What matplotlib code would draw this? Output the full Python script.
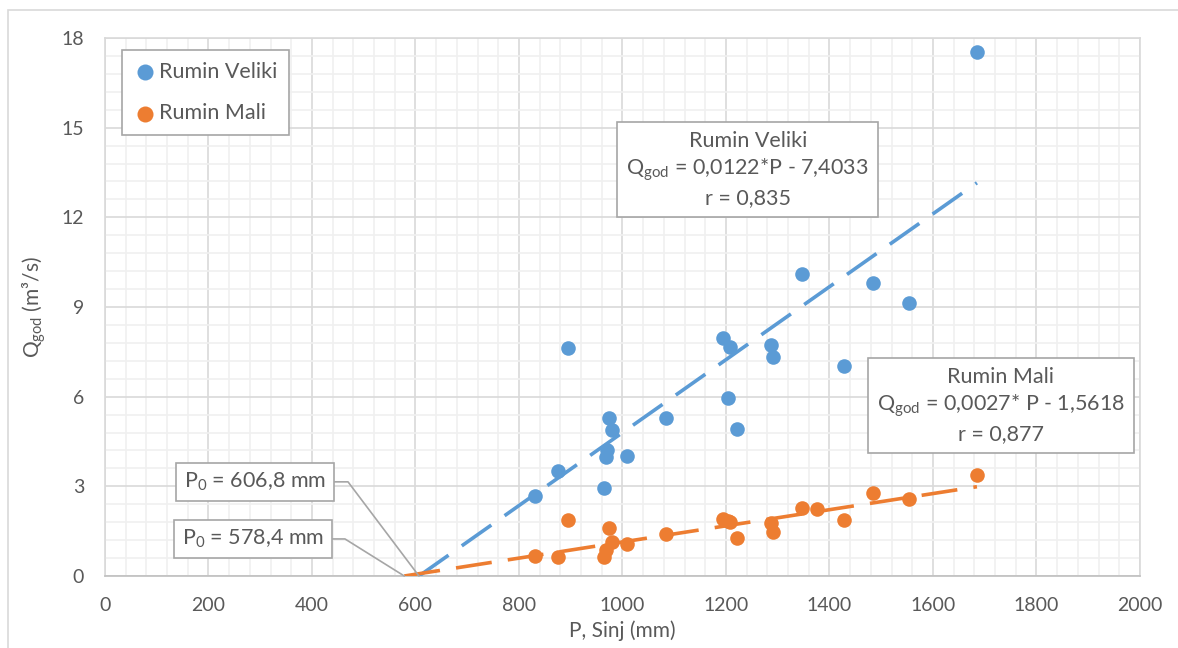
import matplotlib
matplotlib.use('Agg')
import matplotlib.pyplot as plt
from matplotlib.patches import Rectangle
from matplotlib.ticker import MultipleLocator

plt.rcParams['font.family'] = ['Lato', 'DejaVu Sans']
plt.rcParams['mathtext.fontset'] = 'custom'
plt.rcParams['mathtext.rm'] = 'Lato'
plt.rcParams['mathtext.it'] = 'Lato:italic'

# Podaci (ocitano sa grafika)
p_veliki = [831, 875, 895, 964, 968, 970, 974, 980, 1009, 1084, 1194, 1204, 1208,
            1221, 1287, 1291, 1347, 1428, 1484, 1554, 1685]
q_veliki = [2.68, 3.52, 7.64, 2.95, 3.99, 4.22, 5.30, 4.89, 4.00, 5.30, 7.97, 5.97, 7.65,
            4.93, 7.74, 7.34, 10.12, 7.04, 9.79, 9.15, 17.53]

p_mali = [831, 875, 895, 964, 968, 974, 980, 1009, 1084, 1194, 1204, 1208,
          1221, 1287, 1291, 1347, 1376, 1428, 1484, 1554, 1685]
q_mali = [0.68, 0.64, 1.88, 0.64, 0.87, 1.60, 1.14, 1.07, 1.40, 1.91, 1.85, 1.82,
          1.27, 1.78, 1.48, 2.28, 2.25, 1.88, 2.78, 2.58, 3.39]

# Regresija Q = a*P + b
a_veliki, b_veliki, r_veliki, p0_veliki = 0.0122, -7.4033, '0,835', 606.8
a_mali, b_mali, r_mali, p0_mali = 0.0027, -1.5618, '0,877', 578.4
p_kraj = 1685

plava = '#5B9BD5'
narandzasta = '#ED7D31'
siva_tekst = '#595959'
okvir = '#A6A6A6'

fig = plt.figure(figsize=(11.78, 6.48), dpi=100)
ax = fig.add_axes([0.0891, 0.1111, 0.8786, 0.8303])

fig.add_artist(Rectangle((8 / 1178, -0.05), 1.2, 1.05 - 10 / 648,
                         transform=fig.transFigure, fill=False, ec='#D9D9D9', lw=1.2))

# Trend linije
ax.plot([p0_veliki, p_kraj], [a_veliki * p0_veliki + b_veliki, a_veliki * p_kraj + b_veliki],
        color=plava, lw=2.6, dashes=(10, 4.5), zorder=3)
ax.plot([p0_mali, p_kraj], [a_mali * p0_mali + b_mali, a_mali * p_kraj + b_mali],
        color=narandzasta, lw=2.6, dashes=(10, 4.5), zorder=3)

ax.scatter(p_veliki, q_veliki, s=110, color=plava, label='Rumin Veliki', zorder=4, linewidths=0)
ax.scatter(p_mali, q_mali, s=110, color=narandzasta, label='Rumin Mali', zorder=4, linewidths=0)

ax.set_xlim(0, 2000)
ax.set_ylim(0, 18)
ax.xaxis.set_major_locator(MultipleLocator(200))
ax.xaxis.set_minor_locator(MultipleLocator(40))
ax.yaxis.set_major_locator(MultipleLocator(3))
ax.yaxis.set_minor_locator(MultipleLocator(0.6))
ax.grid(which='major', color='#D9D9D9', lw=1.2, zorder=0)
ax.grid(which='minor', color='#F0F0F0', lw=1.2, zorder=0)
ax.set_axisbelow(True)
for s in ax.spines.values():
    s.set_color('#D9D9D9')
    s.set_linewidth(1.2)
ax.spines['bottom'].set_color('#BFBFBF')
ax.tick_params(which='both', length=0, labelsize=14, labelcolor=siva_tekst)
ax.tick_params(axis='y', pad=15)
ax.tick_params(axis='x', pad=15)

ax.set_xlabel('P, Sinj (mm)', fontsize=15, color=siva_tekst, labelpad=5)
ax.set_ylabel(r'Q$_{\mathregular{god}}$ (m³/s)', fontsize=15, color=siva_tekst, labelpad=10)

leg = ax.legend(loc='upper left', bbox_to_anchor=(0.0165, 0.978), fontsize=15.5,
                labelspacing=1.0, borderpad=0.55, handletextpad=0.15, handlelength=1.0,
                fancybox=False, framealpha=1, edgecolor=okvir, scatterpoints=1,
                borderaxespad=0, markerscale=1.1)
for t in leg.get_texts():
    t.set_color(siva_tekst)
leg.get_frame().set_linewidth(1.2)

kutija = dict(boxstyle='square,pad=0.42', fc='white', ec=okvir, lw=1.2)

ax.text(1242, 13.6,
        'Rumin Veliki\n' + r'Q$_{\mathregular{god}}$ = 0,0122*P - 7,4033' + '\nr = ' + r_veliki,
        ha='center', va='center', fontsize=15.5, color=siva_tekst, linespacing=1.3,
        bbox=kutija, zorder=5)
ax.text(1731, 5.7,
        'Rumin Mali\n' + r'Q$_{\mathregular{god}}$ = 0,0027* P - 1,5618' + '\nr = ' + r_mali,
        ha='center', va='center', fontsize=15.5, color=siva_tekst, linespacing=1.3,
        bbox=kutija, zorder=5)

mala_kutija = dict(boxstyle='square,pad=0.35', fc='white', ec=okvir, lw=1.2)
ax.annotate(r'P$_{\mathregular{0}}$ = 606,8 mm', xy=(p0_veliki, 0), xytext=(290, 3.15),
            ha='center', va='center', fontsize=15.5, color=siva_tekst, bbox=mala_kutija,
            arrowprops=dict(arrowstyle='-', color=okvir, lw=1.2, shrinkA=0, shrinkB=0,
                            relpos=(1, 0.5),
                            connectionstyle='angle,angleA=0,angleB=127,rad=0'),
            zorder=5, annotation_clip=False)
ax.annotate(r'P$_{\mathregular{0}}$ = 578,4 mm', xy=(p0_mali, 0), xytext=(286, 1.24),
            ha='center', va='center', fontsize=15.5, color=siva_tekst, bbox=mala_kutija,
            arrowprops=dict(arrowstyle='-', color=okvir, lw=1.2, shrinkA=0, shrinkB=0,
                            relpos=(1, 0.5),
                            connectionstyle='angle,angleA=0,angleB=148,rad=0'),
            zorder=5, annotation_clip=False)

fig.savefig('out.png', dpi=100)
